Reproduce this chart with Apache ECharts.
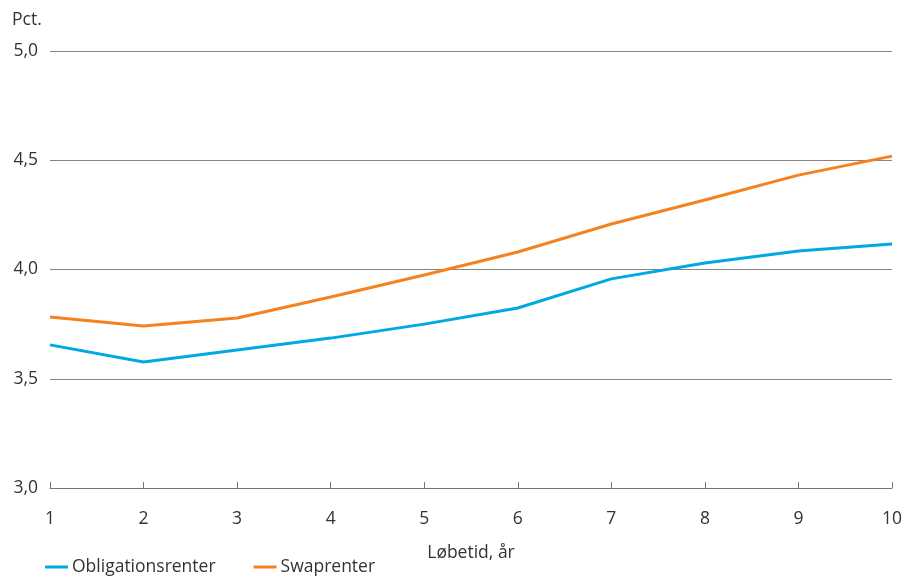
<!DOCTYPE html>
<html>
<head>
<meta charset="utf-8">
<script src="https://cdn.jsdelivr.net/npm/echarts@6/dist/echarts.min.js"></script>
<style>
  html, body { margin: 0; padding: 0; background: #fff; }
  #chart { width: 905px; height: 577px; }
</style>
</head>
<body>
<div id="chart"></div>
<script>
// Løbetid (år) på x-aksen
const maturities = ['1', '2', '3', '4', '5', '6', '7', '8', '9', '10'];
// Renter i procent
const obligationsrenter = [3.655, 3.577, 3.632, 3.686, 3.75, 3.824, 3.957, 4.03, 4.085, 4.117];
const swaprenter = [3.783, 3.741, 3.778, 3.874, 3.975, 4.08, 4.208, 4.318, 4.432, 4.519];
const seriesNames = ['Obligationsrenter', 'Swaprenter'];

const FONT = '"Open Sans", sans-serif';
const FS = 17.5;
const TEXT = '#333333';

const chart = echarts.init(document.getElementById('chart'), null, { renderer: 'canvas' });
chart.setOption({
  animation: false,
  textStyle: { fontFamily: FONT },
  grid: { left: 50, right: 12, top: 51, bottom: 89, containLabel: false },
  legend: {
    left: 45,
    top: 558,
    padding: 0,
    itemWidth: 23,
    itemHeight: 3,
    itemGap: 38,
    icon: 'rect',
    data: seriesNames,
    textStyle: { fontFamily: FONT, fontSize: FS, color: TEXT, padding: [0, 0, 0, -1] }
  },
  xAxis: {
    type: 'category',
    data: maturities,
    boundaryGap: false,
    name: 'Løbetid, år',
    nameLocation: 'middle',
    nameGap: 56,
    nameTextStyle: { fontFamily: FONT, fontSize: FS, color: TEXT },
    axisLine: { lineStyle: { color: '#7d7472', width: 1 } },
    axisTick: { inside: true, length: 6, lineStyle: { color: '#7d7472' } },
    axisLabel: { fontFamily: FONT, fontSize: FS, color: TEXT, margin: 22 },
    splitLine: { show: false }
  },
  yAxis: {
    type: 'value',
    min: 3,
    max: 5,
    interval: 0.5,
    name: 'Pct.',
    nameLocation: 'end',
    nameGap: 0,
    nameTextStyle: { fontFamily: FONT, fontSize: FS, color: TEXT, align: 'left', padding: [0, 0, 22, -38] },
    axisLine: { show: false },
    axisTick: { show: false },
    axisLabel: {
      fontFamily: FONT, fontSize: FS, color: TEXT, margin: 12,
      formatter: v => v.toFixed(1).replace('.', ',')
    },
    splitLine: { lineStyle: { color: '#8c8381', width: 1 } }
  },
  series: [
    {
      name: seriesNames[0],
      type: 'line',
      data: obligationsrenter,
      symbol: 'none',
      lineStyle: { color: '#00a8e4', width: 3 },
      itemStyle: { color: '#00a8e4' }
    },
    {
      name: seriesNames[1],
      type: 'line',
      data: swaprenter,
      symbol: 'none',
      lineStyle: { color: '#f5821f', width: 3 },
      itemStyle: { color: '#f5821f' }
    }
  ]
});
</script>
</body>
</html>
